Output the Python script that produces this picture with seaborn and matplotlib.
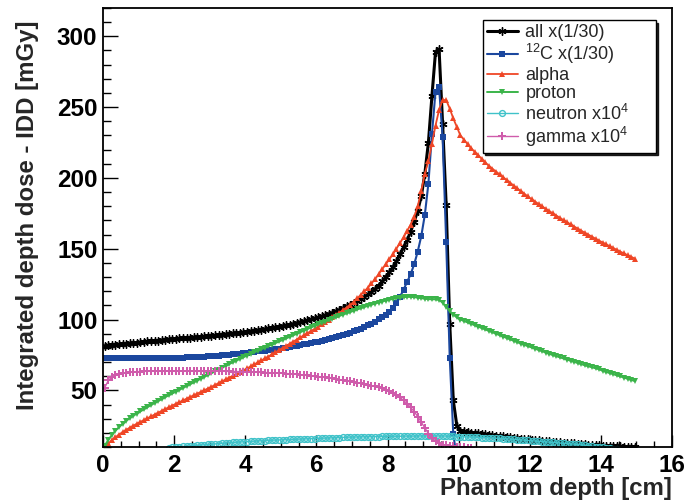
import numpy as np
import pandas as pd
import matplotlib
matplotlib.use("Agg")
import matplotlib.pyplot as plt
import seaborn as sns

# ---------------- data ----------------
# bin centres are 0.05, 0.15, ... cm ; each list starts at the given depth
all_start = 0.05
all_dose = [
    81.5, 81.8, 82.0, 82.2, 82.5, 82.7, 83.0, 83.2, 83.5, 83.7,
    84.0, 84.2, 84.5, 84.7, 85.0, 85.2, 85.5, 85.7, 86.0, 86.2,
    86.5, 86.7, 86.9, 87.1, 87.3, 87.5, 87.7, 87.9, 88.1, 88.3,
    88.5, 88.8, 89.0, 89.3, 89.6, 89.9, 90.2, 90.5, 90.8, 91.1,
    91.5, 91.8, 92.2, 92.5, 92.9, 93.3, 93.7, 94.1, 94.6, 95.0,
    95.5, 96.0, 96.5, 97.0, 97.6, 98.2, 98.8, 99.4, 100.1, 100.8,
    101.5, 102.3, 103.1, 104.0, 104.9, 105.9, 107.0, 108.1, 109.3, 110.5,
    111.8, 113.2, 114.6, 116.1, 117.8, 119.6, 121.6, 124.0, 127.0, 130.0,
    133.5, 137.0, 141.0, 146.0, 151.0, 156.0, 162.0, 169.0, 177.0, 187.0,
    203.0, 225.0, 258.0, 289.0, 291.0, 238.0, 181.0, 97.0, 43.0, 25.0,
    21.5, 21.0, 20.6, 20.2, 19.9, 19.6, 19.3, 19.0, 18.7, 18.4,
    18.1, 17.8, 17.5, 17.2, 16.9, 16.6, 16.3, 16.0, 15.7, 15.4,
    15.2, 14.9, 14.7, 14.4, 14.2, 14.0, 13.7, 13.5, 13.3, 13.1,
    12.9, 12.7, 12.5, 12.3, 12.1, 11.9, 11.7, 11.5, 11.3, 11.2,
    11.0, 10.9, 10.7, 10.6, 10.5, 10.4, 10.3, 10.2, 10.1, 10.0,
]

c12_start = 0.05
c12_dose = [
    72.5, 72.5, 72.5, 72.5, 72.5, 72.5, 72.5, 72.5, 72.5, 72.5,
    72.6, 72.6, 72.6, 72.7, 72.7, 72.7, 72.8, 72.8, 72.9, 72.9,
    73.0, 73.1, 73.2, 73.3, 73.4, 73.5, 73.6, 73.7, 73.8, 74.0,
    74.1, 74.3, 74.5, 74.7, 74.9, 75.1, 75.4, 75.7, 76.0, 76.3,
    76.6, 76.9, 77.2, 77.5, 77.8, 78.1, 78.4, 78.7, 79.0, 79.4,
    79.8, 80.2, 80.6, 81.0, 81.4, 81.9, 82.4, 82.9, 83.4, 83.9,
    84.4, 84.9, 85.5, 86.1, 86.8, 87.5, 88.2, 89.0, 89.8, 90.7,
    91.6, 92.6, 93.6, 94.7, 95.9, 97.2, 98.6, 100.1, 101.7, 103.5,
    105.5, 108.5, 112.0, 116.0, 121.0, 126.5, 132.0, 139.0, 148.0, 159.0,
    174.0, 196.0, 231.0, 261.0, 264.0, 229.0, 155.0, 73.0, 19.0, 2.0,
]

alpha_start = 0.05
alpha_dose = [
    10.0, 12.5, 14.8, 16.9, 18.8, 20.5, 22.1, 23.6, 25.0, 26.4,
    27.7, 29.0, 30.3, 31.6, 32.9, 34.2, 35.5, 36.8, 38.0, 39.3,
    40.5, 41.7, 42.9, 44.1, 45.3, 46.5, 47.7, 48.9, 50.1, 51.3,
    52.5, 53.8, 55.1, 56.4, 57.7, 59.0, 60.3, 61.6, 62.9, 64.2,
    65.5, 66.9, 68.3, 69.7, 71.1, 72.5, 73.9, 75.4, 76.9, 78.4,
    79.9, 81.4, 82.9, 84.4, 85.9, 87.4, 88.9, 90.4, 91.9, 93.4,
    95.0, 96.6, 98.2, 99.8, 101.5, 103.2, 104.9, 106.7, 108.5, 110.3,
    112.5, 115.0, 117.5, 120.0, 122.5, 125.5, 128.5, 132.0, 135.5, 139.0,
    142.5, 146.0, 150.0, 154.0, 158.0, 162.5, 167.0, 172.5, 180.0, 191.0,
    203.0, 212.0, 224.0, 237.0, 248.0, 255.0, 255.0, 249.0, 242.0, 236.0,
    230.0, 227.0, 224.0, 221.0, 218.5, 216.0, 213.5, 211.0, 208.5, 206.5,
    204.5, 202.5, 200.5, 198.5, 196.5, 194.5, 192.6, 190.7, 188.8, 186.9,
    185.0, 183.3, 181.6, 179.9, 178.2, 176.6, 175.0, 173.4, 171.8, 170.2,
    168.7, 167.2, 165.7, 164.2, 162.7, 161.3, 159.9, 158.5, 157.1, 155.7,
    154.4, 153.1, 151.8, 150.5, 149.2, 147.9, 146.7, 145.5, 144.3, 143.1,
]

proton_start = 0.05
proton_dose = [
    11.0, 15.0, 18.5, 21.5, 24.0, 26.3, 28.4, 30.3, 32.0, 33.6,
    35.1, 36.6, 38.1, 39.6, 41.0, 42.4, 43.8, 45.2, 46.5, 47.8,
    49.1, 50.4, 51.7, 53.0, 54.3, 55.6, 56.9, 58.2, 59.5, 60.8,
    62.1, 63.4, 64.7, 66.0, 67.3, 68.6, 69.8, 71.0, 72.2, 73.4,
    74.6, 75.7, 76.8, 77.9, 79.0, 80.1, 81.2, 82.3, 83.4, 84.5,
    85.6, 86.7, 87.8, 88.9, 90.0, 91.1, 92.2, 93.3, 94.4, 95.5,
    96.6, 97.6, 98.6, 99.6, 100.6, 101.6, 102.6, 103.5, 104.4, 105.3,
    106.2, 107.1, 108.0, 108.9, 109.7, 110.5, 111.3, 112.0, 112.7, 113.4,
    114.0, 114.6, 115.1, 115.5, 115.8, 116.0, 116.0, 115.8, 115.5, 115.1,
    114.7, 114.4, 114.3, 114.3, 113.8, 112.0, 109.0, 106.0, 103.5, 101.5,
    100.0, 99.0, 98.0, 97.0, 96.0, 95.0, 94.0, 93.0, 92.0, 91.0,
    90.0, 89.0, 88.0, 87.0, 86.0, 85.0, 84.0, 83.0, 82.1, 81.2,
    80.3, 79.4, 78.5, 77.6, 76.7, 75.8, 74.9, 74.1, 73.3, 72.5,
    71.7, 70.9, 70.1, 69.3, 68.5, 67.7, 67.0, 66.3, 65.6, 64.9,
    63.8, 63.0, 62.2, 61.4, 60.6, 59.8, 59.0, 58.2, 57.4, 56.6,
]

neutron_start = 1.85
neutron_dose = [
    9.6, 9.8,
    10.0, 10.2, 10.4, 10.6, 10.8, 11.0, 11.2, 11.4, 11.6, 11.8,
    12.0, 12.2, 12.4, 12.6, 12.8, 13.0, 13.2, 13.4, 13.5, 13.7,
    13.8, 14.0, 14.1, 14.3, 14.4, 14.5, 14.7, 14.8, 14.9, 15.0,
    15.1, 15.2, 15.3, 15.4, 15.5, 15.6, 15.7, 15.8, 15.9, 16.0,
    16.1, 16.2, 16.3, 16.4, 16.5, 16.6, 16.7, 16.8, 16.9, 17.0,
    17.0, 17.1, 17.2, 17.2, 17.3, 17.3, 17.4, 17.4, 17.5, 17.5,
    17.5, 17.6, 17.6, 17.6, 17.7, 17.7, 17.7, 17.7, 17.8, 17.8,
    17.8, 17.8, 17.8, 17.8, 17.8, 17.8, 17.7, 17.6, 17.5, 17.4,
    17.3, 17.2, 17.1, 17.0, 16.9, 16.8, 16.7, 16.6, 16.5, 16.4,
    16.2, 16.1, 15.9, 15.8, 15.6, 15.4, 15.2, 15.0, 14.8, 14.6,
    14.4, 14.2, 14.0, 13.8, 13.6, 13.4, 13.2, 13.0, 12.8, 12.6,
    12.4, 12.2, 12.0, 11.8, 11.5, 11.2, 10.9, 10.6, 10.3, 10.0,
    9.7, 9.4, 9.1, 8.8, 8.5,
]

gamma_start = 0.05
gamma_dose = [
    52.0, 57.0, 59.5, 60.8, 61.6, 62.1, 62.5, 62.8, 63.0, 63.2,
    63.3, 63.4, 63.5, 63.5, 63.6, 63.6, 63.6, 63.7, 63.7, 63.7,
    63.7, 63.7, 63.7, 63.7, 63.7, 63.7, 63.6, 63.6, 63.6, 63.6,
    63.6, 63.5, 63.5, 63.5, 63.4, 63.4, 63.3, 63.3, 63.2, 63.2,
    63.1, 63.0, 62.9, 62.8, 62.7, 62.6, 62.5, 62.4, 62.3, 62.2,
    62.1, 61.9, 61.7, 61.5, 61.3, 61.1, 60.9, 60.6, 60.3, 60.0,
    59.7, 59.4, 59.1, 58.8, 58.4, 58.0, 57.6, 57.2, 56.8, 56.4,
    56.0, 55.5, 55.0, 54.5, 54.0, 53.4, 52.8, 52.1, 51.4, 50.6,
    49.5, 48.3, 46.8, 45.0, 43.0, 40.6, 38.0, 35.0, 31.5, 27.5,
    23.5, 19.5, 16.2, 14.0, 12.6, 11.7, 11.1, 10.7, 10.4, 10.2,
    10.0, 9.8, 9.6, 9.4,
]

labels = ["all x(1/30)", "$^{12}$C x(1/30)", "alpha", "proton",
          "neutron x10$^{4}$", "gamma x10$^{4}$"]
x_ticks = [0, 2, 4, 6, 8, 10, 12, 14, 16]
y_ticks = [50, 100, 150, 200, 250, 300]
bin_width = 0.1

# ---------------- style ----------------
sns.set_theme(style="ticks")
plt.rcParams["font.family"] = ["Liberation Sans", "DejaVu Sans"]
plt.rcParams["mathtext.default"] = "regular"

fig = plt.figure(figsize=(6.98, 5.03), dpi=100)
ax = fig.add_axes([103 / 698, 1 - 447 / 503, (672 - 103) / 698, (447 - 8) / 503])

series = [
    (all_start, all_dose, dict(color="black", marker=(6, 2, 0), markersize=5.8,
                               markeredgecolor="black", markeredgewidth=1.0,
                               linewidth=2.2)),
    (c12_start, c12_dose, dict(color="#1B479E", marker="s", markersize=4.1,
                               markeredgecolor="#1B479E", markeredgewidth=0,
                               linewidth=1.5)),
    (alpha_start, alpha_dose, dict(color="#EF4626", marker="^", markersize=4.6,
                                   markeredgecolor="#EF4626", markeredgewidth=0,
                                   linewidth=1.3)),
    (proton_start, proton_dose, dict(color="#3BB44A", marker="v", markersize=4.6,
                                     markeredgecolor="#3BB44A", markeredgewidth=0,
                                     linewidth=1.4)),
    (neutron_start, neutron_dose, dict(color="#3FC2C9", marker="o", markersize=4.2,
                                       markerfacecolor="none",
                                       markeredgecolor="#3FC2C9",
                                       markeredgewidth=1.0, linewidth=1.0)),
    (gamma_start, gamma_dose, dict(color="#CF5CAB", marker="P", markersize=5.6,
                                   markeredgecolor="#CF5CAB", markeredgewidth=0,
                                   linewidth=1.0)),
]

for (start, vals, kw), lab in zip(series, labels):
    n = len(vals)
    depth = np.round(start + bin_width * np.arange(n), 3)
    df = pd.DataFrame({"depth": depth, "dose": vals})
    sns.lineplot(data=df, x="depth", y="dose", ax=ax, label=lab, sort=False,
                 errorbar=None, **kw)

ax.set_xlim(0, 16)
ax.set_ylim(10, 320)
ax.set_xticks(x_ticks)
ax.set_yticks(y_ticks)
ax.set_xticks(np.arange(0, 16.01, 0.5), minor=True)
ax.set_yticks(np.arange(10, 320.1, 10), minor=True)

for sp in ax.spines.values():
    sp.set_visible(True)
    sp.set_color("black")
    sp.set_linewidth(1.3)

ax.tick_params(axis="both", which="both", direction="in", colors="black",
               top=False, right=False)
ax.tick_params(axis="x", which="major", length=8.5, width=1.0, pad=5)
ax.tick_params(axis="x", which="minor", length=4.2, width=1.0)
ax.tick_params(axis="y", which="major", length=11, width=1.0, pad=4)
ax.tick_params(axis="y", which="minor", length=5.5, width=1.0)

for t in ax.get_xticklabels() + ax.get_yticklabels():
    t.set_fontweight("bold")
    t.set_fontsize(17.5)

ax.set_xlabel("Phantom depth [cm]", fontsize=17.3, fontweight="bold")
ax.set_ylabel("Integrated depth dose - IDD [mGy]", fontsize=17.3,
              fontweight="bold")
ax.xaxis.set_label_coords(1.0, (447 - 488) / 439)
ax.xaxis.label.set_ha("right")
ax.xaxis.label.set_va("center")
ax.yaxis.set_label_coords((28 - 103) / 569, (447 - 20) / 439)
ax.yaxis.label.set_ha("right")
ax.yaxis.label.set_va("center")

leg = ax.legend(loc="upper left",
                bbox_to_anchor=(482.7 / 698, (503 - 149.3) / 503, 173 / 698, 129.3 / 503),
                bbox_transform=fig.transFigure, mode="expand", borderaxespad=0,
                fontsize=13, frameon=True, fancybox=False,
                shadow={"color": "black", "alpha": 0.85},
                handlelength=1.75, handletextpad=0.4, labelspacing=0.06,
                borderpad=0.22)
leg.get_frame().set_edgecolor("black")
leg.get_frame().set_linewidth(1.0)
leg.get_frame().set_facecolor("white")
leg.get_frame().set_alpha(1)

fig.savefig("out.png", dpi=100)
